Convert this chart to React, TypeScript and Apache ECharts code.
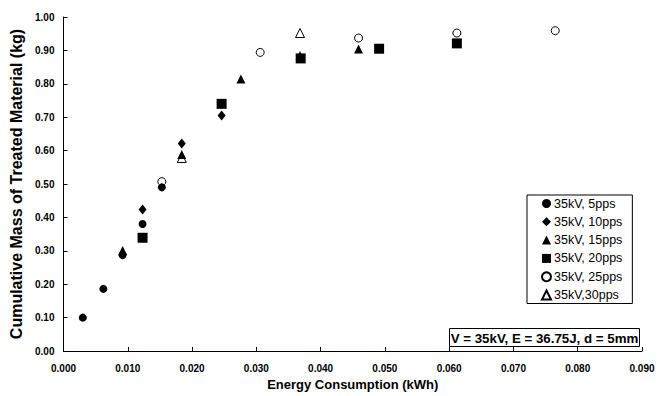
import React, { useEffect, useRef } from "react";
import * as echarts from "echarts";

const seriesNames = ["35kV, 5pps", "35kV, 10pps", "35kV, 15pps", "35kV, 20pps", "35kV, 25pps", "35kV,30pps"];

const pps5: [number, number][] = [
  [0.0030, 0.100], [0.0062, 0.186], [0.0092, 0.287], [0.0123, 0.380], [0.0153, 0.490],
];
const pps10: [number, number][] = [
  [0.0123, 0.424], [0.0184, 0.621], [0.0246, 0.705],
];
const pps15: [number, number][] = [
  [0.0092, 0.301], [0.0184, 0.588], [0.0276, 0.814], [0.0368, 0.885], [0.0459, 0.904],
];
const pps20: [number, number][] = [
  [0.0123, 0.339], [0.0246, 0.740], [0.0369, 0.876], [0.0491, 0.905], [0.0612, 0.921],
];
const pps25: [number, number][] = [
  [0.0153, 0.507], [0.0306, 0.894], [0.0459, 0.937], [0.0612, 0.952], [0.0765, 0.959],
];
const pps30: [number, number][] = [
  [0.0184, 0.578], [0.0368, 0.952],
];

const xTitle = "Energy Consumption (kWh)";
const yTitle = "Cumulative Mass of Treated Material (kg)";
const noteText = "V = 35kV, E = 36.75J, d = 5mm";

const FONT = "'Liberation Sans', Arial, sans-serif";

export default function App() {
  const ref = useRef<HTMLDivElement>(null);
  useEffect(() => {
    if (!ref.current) return;
    const chart = echarts.init(ref.current, null, { renderer: "svg" });
    const filled = { color: "#000", borderColor: "#000", borderWidth: 0, opacity: 1 };
    const open = { color: "#fff", borderColor: "#000", borderWidth: 1, opacity: 1 };
    chart.setOption({
      animation: false,
      backgroundColor: "#fff",
      textStyle: { fontFamily: FONT },
      grid: { left: 63.5, right: 24, top: 17, bottom: 45 },
      xAxis: {
        type: "value",
        min: 0,
        max: 0.09,
        interval: 0.01,
        name: xTitle,
        nameLocation: "middle",
        nameGap: 25,
        nameTextStyle: { fontFamily: FONT, fontSize: 13, fontWeight: "bold", color: "#000" },
        axisLine: { show: true, lineStyle: { color: "#000", width: 1 } },
        axisTick: { show: true, inside: true, length: 4, lineStyle: { color: "#000" } },
        splitLine: { show: false },
        axisLabel: {
          fontFamily: FONT, fontSize: 10, fontWeight: "bold", color: "#000", margin: 12,
          formatter: (v: number) => v.toFixed(3),
        },
      },
      yAxis: {
        type: "value",
        min: 0,
        max: 1,
        interval: 0.1,
        name: yTitle,
        nameLocation: "middle",
        nameGap: 34,
        nameTextStyle: { fontFamily: FONT, fontSize: 16, fontWeight: "bold", color: "#000" },
        axisLine: { show: true, lineStyle: { color: "#000", width: 1 } },
        axisTick: { show: true, inside: true, length: 4, lineStyle: { color: "#000" } },
        splitLine: { show: false },
        axisLabel: {
          fontFamily: FONT, fontSize: 10, fontWeight: "bold", color: "#000", margin: 9,
          formatter: (v: number) => v.toFixed(2),
        },
      },
      legend: {
        orient: "vertical",
        left: 527,
        top: 195,
        data: seriesNames,
        borderColor: "#000",
        borderWidth: 1,
        borderRadius: 0,
        padding: [2, 10, 2, 14],
        itemGap: 5.3,
        itemWidth: 9,
        itemHeight: 9,
        textStyle: { fontFamily: FONT, fontSize: 12.5, lineHeight: 13, color: "#000", padding: [0, 0, 0, -2] },
      },
      series: [
        { name: seriesNames[0], type: "scatter", data: pps5, symbol: "circle", symbolSize: 8, itemStyle: filled, z: 6 },
        { name: seriesNames[1], type: "scatter", data: pps10, symbol: "diamond", symbolSize: [8, 10], itemStyle: filled, z: 4 },
        { name: seriesNames[2], type: "scatter", data: pps15, symbol: "triangle", symbolSize: [9, 9], itemStyle: filled, z: 3 },
        { name: seriesNames[3], type: "scatter", data: pps20, symbol: "rect", symbolSize: 10, itemStyle: filled, z: 5 },
        { name: seriesNames[4], type: "scatter", data: pps25, symbol: "circle", symbolSize: 8, itemStyle: open, z: 2 },
        { name: seriesNames[5], type: "scatter", data: pps30, symbol: "triangle", symbolSize: [9, 9], itemStyle: open, z: 2 },
      ],
      graphic: [
        {
          type: "group",
          left: 449,
          top: 328,
          children: [
            { type: "rect", shape: { x: 0, y: 0, width: 190, height: 18 }, style: { fill: "#fff", stroke: "#000", lineWidth: 1 } },
            {
              type: "text", x: 95, y: 9.5,
              style: { text: noteText, fontFamily: FONT, fontSize: 13.3, fontWeight: "bold", fill: "#000", align: "center", verticalAlign: "middle" },
            },
          ],
        },
      ],
    });
    return () => chart.dispose();
  }, []);
  return <div ref={ref} style={{ width: 666, height: 396, position: "absolute", left: 0, top: 0 }} />;
}
